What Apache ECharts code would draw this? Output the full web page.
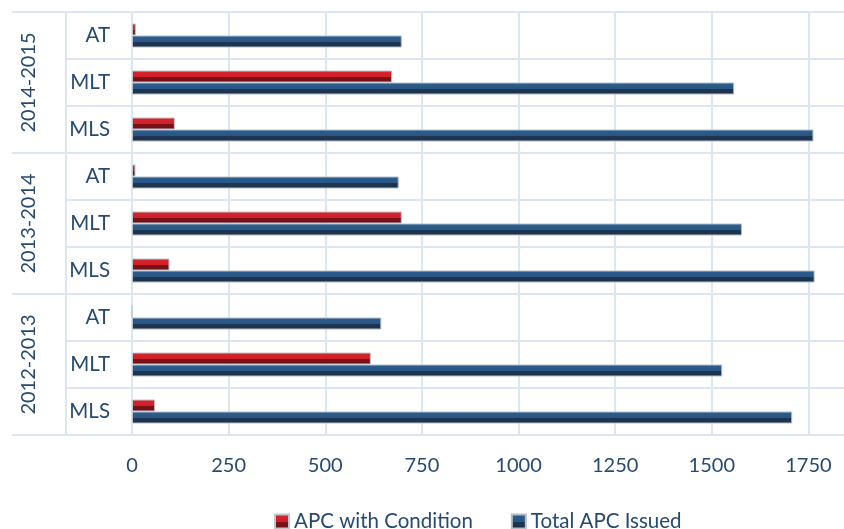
<!DOCTYPE html>
<html>
<head>
<meta charset="utf-8">
<script src="https://cdn.jsdelivr.net/npm/echarts@6/dist/echarts.min.js"></script>
<style>
html,body{margin:0;padding:0;background:#fff;}
#chart{width:844px;height:529px;}
</style>
</head>
<body>
<div id="chart"></div>
<script>
// Categories (bottom to top)
var subCategories = ['MLS','MLT','AT','MLS','MLT','AT','MLS','MLT','AT'];
var yearGroups = ['2012-2013','2013-2014','2014-2015'];
// Series values, same order as subCategories
var apcWithCondition = [60, 618, 0, 97, 698, 9, 111, 673, 10];
var totalApcIssued = [1708, 1527, 645, 1766, 1578, 690, 1763, 1558, 698];
var xTicks = [0, 250, 500, 750, 1000, 1250, 1500, 1750];
var xVisibleMax = 1842;

var lineColor = '#dbe6f2';
var textColor = '#264a70';
var fontFam = 'Lato, "Open Sans", sans-serif';

var redGrad = new echarts.graphic.LinearGradient(0,0,0,1,[
  {offset:0,color:'#d9252d'},{offset:0.5,color:'#cf1f27'},
  {offset:0.52,color:'#7e1219'},{offset:1,color:'#6e0f15'}
]);
var blueGrad = new echarts.graphic.LinearGradient(0,0,0,1,[
  {offset:0,color:'#2d5f90'},{offset:0.5,color:'#285685'},
  {offset:0.52,color:'#1f3753'},{offset:1,color:'#1c3049'}
]);

var chart = echarts.init(document.getElementById('chart'));
chart.setOption({
  animation:false,
  grid:{left:132, right:0, top:12, bottom:94, containLabel:false},
  legend:{
    left:269, top:506, itemWidth:14, itemHeight:14, itemGap:38,
    icon:'rect',
    textStyle:{color:textColor, fontSize:20.5, fontFamily:fontFam},
    data:['APC with Condition','Total APC Issued']
  },
  xAxis:{
    type:'value', min:0, max:xVisibleMax, interval:250,
    axisLine:{show:false}, axisTick:{show:false},
    splitLine:{show:true, showMaxLine:false, lineStyle:{color:lineColor, width:2}},
    axisLabel:{color:textColor, fontSize:20, fontFamily:fontFam, margin:21, showMaxLabel:false,
      formatter:function(v){ return xTicks.indexOf(v) >= 0 ? String(v) : ''; }}
  },
  yAxis:[{
    type:'category', data:subCategories,
    axisLine:{show:true, lineStyle:{color:lineColor, width:2}},
    axisTick:{show:true, length:66, interval:0, lineStyle:{color:lineColor, width:2}},
    splitLine:{show:true, interval:0, lineStyle:{color:lineColor, width:2}},
    axisLabel:{color:textColor, fontSize:20.5, fontFamily:fontFam, margin:22, interval:0}
  },{
    type:'category', data:yearGroups, position:'left', offset:66,
    axisLine:{show:true, lineStyle:{color:lineColor, width:2}},
    axisTick:{show:true, length:54, interval:0, lineStyle:{color:lineColor, width:2}},
    splitLine:{show:false},
    axisLabel:{color:textColor, fontSize:20, fontFamily:fontFam, rotate:90, margin:27, interval:0}
  }],
  series:[{
    name:'APC with Condition', type:'bar', yAxisIndex:0,
    data:apcWithCondition, barWidth:12, barGap:'0%',
    itemStyle:{color:redGrad, borderColor:'#c0c6ce', borderWidth:1}
  },{
    name:'Total APC Issued', type:'bar', yAxisIndex:0,
    data:totalApcIssued, barWidth:12, barGap:'0%',
    itemStyle:{color:blueGrad, borderColor:'#b4bec9', borderWidth:1}
  }]
});
</script>
</body>
</html>
